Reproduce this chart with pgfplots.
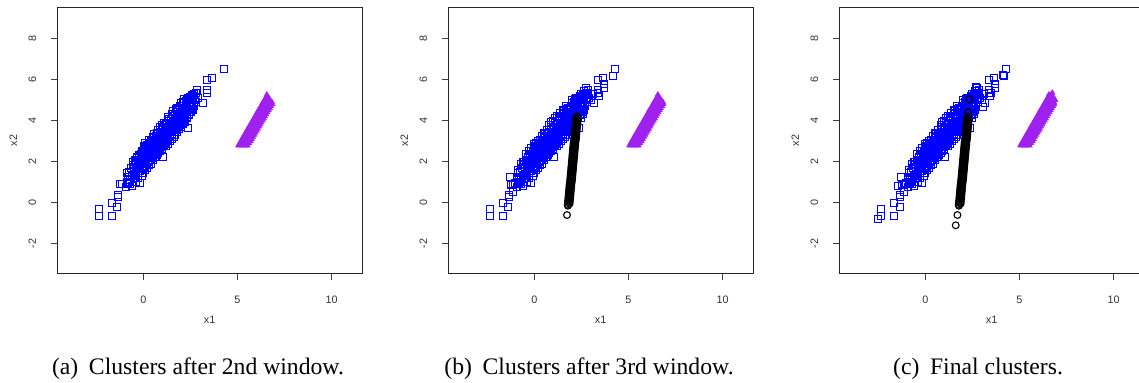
\documentclass[border=0pt]{standalone}
\usepackage{fontspec}
\setmainfont{Liberation Serif}
\newfontfamily\rsans{Liberation Sans}
\usepackage{pgfplots}
\usepackage{pgfplotstable}
\pgfplotsset{compat=1.18}
\definecolor{rpurple}{HTML}{A020F0}
\definecolor{rblue}{HTML}{0000FF}

% ---------- data ----------
\pgfplotstableread{
x y
-0.9 1.0
-0.88 1.45
-0.8 0.95
-0.78 1.5
-0.82 1.25
-0.7 1.1
-0.68 1.7
-0.72 0.9
-0.6 1.3
-0.62 0.81
-0.58 1.85
-0.53 1.96
-0.5 1.2
-0.48 1.55
-0.4 1.4
-0.38 2.05
-0.42 1.0
-0.3 1.55
-0.32 2.2
-0.28 1.2
-0.18 0.97
-0.2 1.7
-0.22 2.3
-0.19 1.95
-0.1 1.3
-0.1 2.5
-0.08 1.8
-0.12 2.1
0 1.45
0.02 2.4
-0.02 1.9
0.03 2.75
0.1 1.6
0.1 2.9
0.12 2.2
0.08 2.5
0.2 1.7
0.2 2.8
0.22 2.05
0.18 2.55
0.3 1.85
0.32 2.75
0.28 2.3
0.3 3.05
0.4 1.9
0.42 2.6
0.38 3.0
0.4 2.25
0.5 2.1
0.5 3.2
0.52 2.5
0.48 2.85
0.6 2.2
0.62 2.7
0.58 3.35
0.6 3.0
0.7 2.3
0.7 3.4
0.72 2.85
0.68 2.6
0.8 2.4
0.8 3.55
0.82 3.0
0.78 2.75
0.9 2.5
0.92 3.3
0.88 3.7
0.9 2.9
1.0 2.6
1.02 3.2
0.98 3.8
1.0 2.95
1.06 2.24
1.1 2.8
1.12 3.5
1.08 3.9
1.1 3.15
1.2 2.75
1.22 3.35
1.18 3.85
1.2 3.1
1.3 2.85
1.3 3.6
1.32 4.15
1.28 3.25
1.4 3.0
1.42 3.7
1.38 4.05
1.4 3.35
1.5 3.1
1.5 3.8
1.52 4.3
1.48 3.45
1.6 3.2
1.62 3.95
1.58 4.45
1.6 3.6
1.7 3.3
1.7 4.0
1.72 4.55
1.68 3.7
1.8 3.45
1.82 4.1
1.78 4.6
1.8 3.8
1.9 3.6
1.9 4.25
1.92 4.7
1.88 3.95
2.0 3.7
2.02 4.3
1.98 4.85
2.0 4.05
2.1 3.85
2.1 4.5
2.12 4.9
2.08 4.15
2.2 3.95
2.22 4.6
2.18 5.05
2.2 4.25
2.3 4.1
2.3 4.7
2.32 5.0
2.28 4.4
2.39 3.65
2.4 4.3
2.42 4.85
2.38 5.1
2.5 4.4
2.5 5.0
2.52 4.7
2.6 4.5
2.62 5.2
2.58 4.85
2.7 4.7
2.7 5.3
2.72 5.0
2.8 4.9
2.82 5.35
2.87 5.48
2.9 5.1
3.19 4.87
3.4 5.32
3.4 5.48
3.37 5.97
3.67 6.05
4.26 6.5
-2.34 -0.32
-2.34 -0.65
-1.65 -0.65
-1.65 -0.03
-1.38 -0.19
-1.37 0.29
-1.33 0.37
-1.24 0.89
-1.13 0.89
-0.95 0.75
}\blueA

% dense core of the blue cluster
\pgfplotstableread{
x y
-0.47 1.22
-0.52 1.47
-0.49 1.72
-0.54 1.97
-0.37 1.33
-0.42 1.58
-0.39 1.83
-0.44 2.08
-0.27 1.43
-0.32 1.68
-0.29 1.93
-0.34 2.18
-0.17 1.54
-0.22 1.79
-0.19 2.04
-0.24 2.29
-0.07 1.64
-0.12 1.89
-0.09 2.14
-0.14 2.39
0.03 1.75
-0.02 2.0
0.01 2.25
-0.04 2.5
0.13 1.86
0.08 2.11
0.11 2.36
0.06 2.61
0.23 1.96
0.18 2.21
0.21 2.46
0.16 2.71
0.33 2.07
0.28 2.32
0.31 2.57
0.26 2.82
0.43 2.17
0.38 2.42
0.41 2.67
0.36 2.92
0.53 2.28
0.48 2.53
0.51 2.78
0.46 3.03
0.63 2.39
0.58 2.64
0.61 2.89
0.56 3.14
0.73 2.49
0.68 2.74
0.71 2.99
0.66 3.24
0.83 2.6
0.78 2.85
0.81 3.1
0.76 3.35
0.93 2.7
0.88 2.95
0.91 3.2
0.86 3.45
1.03 2.81
0.98 3.06
1.01 3.31
0.96 3.56
1.13 2.92
1.08 3.17
1.11 3.42
1.06 3.67
1.23 3.02
1.18 3.27
1.21 3.52
1.16 3.77
1.33 3.13
1.28 3.38
1.31 3.63
1.26 3.88
1.43 3.23
1.38 3.48
1.41 3.73
1.36 3.98
1.53 3.34
1.48 3.59
1.51 3.84
1.46 4.09
1.63 3.45
1.58 3.7
1.61 3.95
1.56 4.2
1.73 3.55
1.68 3.8
1.71 4.05
1.66 4.3
1.83 3.66
1.78 3.91
1.81 4.16
1.76 4.41
1.93 3.76
1.88 4.01
1.91 4.26
1.86 4.51
2.03 3.87
1.98 4.12
2.01 4.37
1.96 4.62
2.13 3.98
2.08 4.23
2.11 4.48
2.06 4.73
2.23 4.08
2.18 4.33
2.21 4.58
2.16 4.83
2.33 4.19
2.28 4.44
2.31 4.69
2.26 4.94
2.43 4.29
2.38 4.54
2.41 4.79
2.36 5.04
2.53 4.4
2.48 4.65
2.51 4.9
2.46 5.15
2.63 4.51
2.58 4.76
2.61 5.01
2.56 5.26
}\blueCore

\pgfplotstableread{
x y
4.16 6.16
3.72 5.56
3.70 5.80
3.42 5.20
3.00 5.00
2.75 5.60
2.65 5.45
2.85 5.25
3.10 5.30
-1.26 0.86
-1.30 1.27
-1.03 0.97
-1.12 0.54
-0.44 2.37
-0.59 1.96
-0.3 2.5
0.0 2.85
0.2 3.0
0.5 3.4
0.8 3.8
1.0 4.0
1.2 4.2
1.5 4.5
1.7 4.7
2.0 5.0
2.2 5.1
2.5 5.3
-0.7 1.9
-0.9 1.6
-0.95 1.2
1.9 3.5
2.2 3.8
2.6 4.3
2.45 4.1
0.4 3.25
0.65 3.55
1.35 4.35
-0.2 2.65
2.4 5.2
1.1 4.1
0.9 3.95
}\blueB

\pgfplotstableread{
x y
-2.52 -0.81
4.13 6.21
3.07 4.67
2.71 5.61
3.5 5.35
-1.45 0.81
-1.28 1.27
}\blueC

\pgfplotstableread{
x y
1.77 -0.1
1.87 -0.05
1.78 0.0
1.88 0.05
1.79 0.1
1.89 0.15
1.80 0.2
1.90 0.25
1.81 0.3
1.91 0.35
1.82 0.4
1.92 0.45
1.83 0.5
1.93 0.55
1.84 0.6
1.94 0.65
1.85 0.7
1.95 0.75
1.86 0.8
1.96 0.85
1.87 0.9
1.97 0.95
1.89 1.0
1.99 1.05
1.90 1.1
2.00 1.15
1.91 1.2
2.01 1.25
1.92 1.3
2.02 1.35
1.93 1.4
2.03 1.45
1.94 1.5
2.04 1.55
1.95 1.6
2.05 1.65
1.96 1.7
2.06 1.75
1.97 1.8
2.07 1.85
1.98 1.9
2.08 1.95
1.99 2.0
2.09 2.05
2.00 2.1
2.10 2.15
2.01 2.2
2.11 2.25
2.02 2.3
2.12 2.35
2.03 2.4
2.13 2.45
2.04 2.5
2.14 2.55
2.05 2.6
2.15 2.65
2.06 2.7
2.16 2.75
2.07 2.8
2.17 2.85
2.08 2.9
2.18 2.95
2.10 3.0
2.20 3.05
2.11 3.1
2.21 3.15
2.12 3.2
2.22 3.25
2.13 3.3
2.23 3.35
2.14 3.4
2.24 3.45
2.15 3.5
2.25 3.55
2.16 3.6
2.26 3.65
2.17 3.7
2.27 3.75
2.18 3.8
2.28 3.85
2.19 3.9
2.29 3.95
2.20 4.0
2.30 4.05
2.21 4.1
2.27 4.15
2.26 4.2
1.78 -0.15
}\blackA

\pgfplotstableread{
x y
1.73 -0.6
}\blackB

\pgfplotstableread{
x y
1.61 -1.1
1.70 -0.6
2.27 4.4
2.32 5.03
}\blackC

\pgfplotstableread{
x y
5.04 2.78
5.17 2.78
5.29 2.78
5.42 2.78
5.54 2.78
5.11 2.9
5.24 2.9
5.37 2.9
5.50 2.9
5.62 2.9
5.18 3.0
5.31 3.0
5.44 3.0
5.57 3.0
5.70 3.0
5.24 3.1
5.37 3.1
5.50 3.1
5.63 3.1
5.76 3.1
5.30 3.2
5.43 3.2
5.56 3.2
5.70 3.2
5.83 3.2
5.36 3.3
5.49 3.3
5.62 3.3
5.76 3.3
5.89 3.3
5.43 3.4
5.56 3.4
5.69 3.4
5.82 3.4
5.95 3.4
5.49 3.5
5.62 3.5
5.75 3.5
5.89 3.5
6.02 3.5
5.55 3.6
5.68 3.6
5.81 3.6
5.95 3.6
6.08 3.6
5.61 3.7
5.75 3.7
5.88 3.7
6.01 3.7
6.15 3.7
5.68 3.8
5.81 3.8
5.94 3.8
6.08 3.8
6.21 3.8
5.74 3.9
5.87 3.9
6.01 3.9
6.14 3.9
6.27 3.9
5.80 4.0
5.93 4.0
6.07 4.0
6.20 4.0
6.34 4.0
5.86 4.1
6.00 4.1
6.13 4.1
6.27 4.1
6.40 4.1
5.93 4.2
6.06 4.2
6.20 4.2
6.33 4.2
6.47 4.2
5.99 4.3
6.12 4.3
6.26 4.3
6.39 4.3
6.53 4.3
6.05 4.4
6.19 4.4
6.32 4.4
6.46 4.4
6.59 4.4
6.11 4.5
6.25 4.5
6.39 4.5
6.52 4.5
6.66 4.5
6.18 4.6
6.31 4.6
6.45 4.6
6.58 4.6
6.72 4.6
6.24 4.7
6.38 4.7
6.51 4.7
6.65 4.7
6.79 4.7
6.30 4.8
6.44 4.8
6.57 4.8
6.71 4.8
6.85 4.8
6.36 4.9
6.48 4.9
6.60 4.9
6.72 4.9
6.83 4.9
6.43 5.0
6.53 5.0
6.64 5.0
6.74 5.0
6.49 5.1
6.58 5.1
6.66 5.1
6.56 5.2
6.56 5.26
}\purpleA

\pgfplotstableread{
x y
6.75 5.35
6.68 5.28
6.80 5.15
6.90 5.0
}\purpleC

\pgfplotsset{
  rplot/.style={
    anchor=south west, scale only axis,
    width=152.35pt, height=133.2pt,
    xmin=-4.58, xmax=11.62, ymin=-3.455, ymax=9.51,
    xtick={0,5,10}, xticklabels={0,5,10},
    ytick={-2,0,2,4,6,8}, yticklabels={-2,0,2,4,6,8},
    tick pos=left, tick align=outside, major tick length=3pt,
    axis line style={line width=0.5pt, black!85},
    every tick/.style={line width=0.5pt, black!75},
    ticklabel style={font=\rsans\fontsize{5.4}{6}\selectfont, text=black!80},
    xticklabel style={anchor=center, yshift=-9.9pt},
    yticklabel style={xshift=-9.5pt, rotate=90, anchor=center},
    xlabel={x1}, ylabel={x2},
    label style={font=\rsans\fontsize{5.4}{6}\selectfont, text=black!80},
    xlabel style={at={(axis description cs:0.5,-0.1727)}, anchor=center},
    ylabel style={at={(axis description cs:-0.1444,0.5)}, anchor=center},
    clip=false,
  },
  bluesq/.style={only marks, mark=square, mark size=1.75pt, rblue, mark options={line width=0.5pt}},
  blackci/.style={only marks, mark=o, mark size=1.7pt, black, mark options={line width=0.55pt}},
  purptri/.style={only marks, mark=triangle*, mark size=1.4pt, rpurple, mark options={line width=0.4pt, fill=rpurple}},
}

\begin{document}
\begin{tikzpicture}
\useasboundingbox (0,0) rectangle (569.5pt,191.5pt);

% panel (a)
\begin{axis}[rplot, at={(28.65pt,54.65pt)}]
\addplot[bluesq] table[x=x,y=y] {\blueA};
\addplot[bluesq] table[x=x,y=y] {\blueCore};
\addplot[purptri] table[x=x,y=y] {\purpleA};
\end{axis}

% panel (b)
\begin{axis}[rplot, at={(224.15pt,54.65pt)}]
\addplot[bluesq] table[x=x,y=y] {\blueA};
\addplot[bluesq] table[x=x,y=y] {\blueCore};
\addplot[bluesq] table[x=x,y=y] {\blueB};
\addplot[blackci] table[x=x,y=y] {\blackA};
\addplot[blackci] table[x=x,y=y] {\blackB};
\addplot[purptri] table[x=x,y=y] {\purpleA};
\end{axis}

% panel (c)
\begin{axis}[rplot, at={(419.65pt,54.65pt)}]
\addplot[bluesq] table[x=x,y=y] {\blueA};
\addplot[bluesq] table[x=x,y=y] {\blueCore};
\addplot[bluesq] table[x=x,y=y] {\blueB};
\addplot[bluesq] table[x=x,y=y] {\blueC};
\addplot[blackci] table[x=x,y=y] {\blackA};
\addplot[blackci] table[x=x,y=y] {\blackC};
\addplot[purptri] table[x=x,y=y] {\purpleA};
\addplot[purptri] table[x=x,y=y] {\purpleC};
\end{axis}

\node[anchor=base, inner sep=0pt, font=\fontsize{11.84}{14}\selectfont] at (99pt,4pt) {(a)\hspace{0.45em}Clusters after 2nd window.};
\node[anchor=base, inner sep=0pt, font=\fontsize{11.84}{14}\selectfont] at (294.5pt,4pt) {(b)\hspace{0.45em}Clusters after 3rd window.};
\node[anchor=base, inner sep=0pt, font=\fontsize{11.84}{14}\selectfont] at (489pt,4pt) {(c)\hspace{0.45em}Final clusters.};
\end{tikzpicture}
\end{document}
